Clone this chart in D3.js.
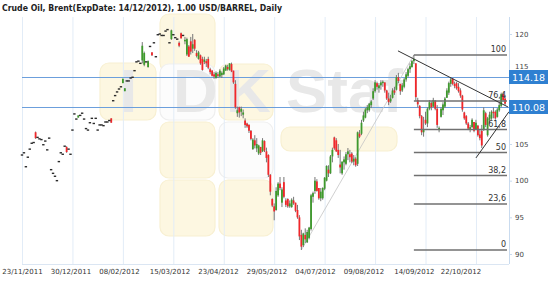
<!DOCTYPE html>
<html>
<head>
<meta charset="utf-8">
<script src="https://cdn.jsdelivr.net/npm/d3@7"></script>
<style>
  body { margin: 0; background: #fff; }
  svg { display: block; }
</style>
</head>
<body>
<div id="chart"></div>
<script>
// chart data
const titleText = 'Crude Oil, Brent(ExpDate: 14/12/2012), 1.00 USD/BARREL, Daily';
const gridIdx = [0, 26, 52, 78, 104, 130, 156, 182, 208, 234];
const labelIdx = [0, 25, 50, 76, 101, 126, 151, 176, 202, 226];
const dateLabels = ['23/11/2011', '30/12/2011', '08/02/2012', '15/03/2012', '23/04/2012',
                    '29/05/2012', '04/07/2012', '09/08/2012', '14/09/2012', '22/10/2012'];
const priceTicks = [90, 95, 100, 105, 110, 115, 120];
const levels = [114.18, 110.08];
const fibPcts = [100, 76.4, 61.8, 50, 38.2, 23.6, 0];
const fibLabels = ['100', '76,4', '61,8', '50', '38,2', '23,6', '0'];
const fibLow = [144, 90.55];    // [bar index, price]
const fibHigh = [202, 117.14];
// [idx1, price1, idx2, price2]
const trendLines = [[193.8, 117.7, 250.5, 110.05], [234, 103.1, 251, 109.4]];

// one entry per trading day: a number = flat day, otherwise [open, high, low, close]
const candles = [
  103.5, 103.8, 101.9, 103.2, 104.3, 105.1, 105.2, [106.6, 106.7, 105.7, 105.8], 105.9, 105.7,
  105.6, 104.9, 105.4, 104.2, 105.8, 101.5, 101.0, 100.6, 100.0, 102.6,
  103.8, 103.6, 104.7, [104.6, 104.7, 103.8, 103.9], 104.3, 103.6, 106.9, 109.1, 108.4, [108.6, 108.9, 108.6, 108.9],
  108.9, 109.2, 108.4, 107.1, 106.9, 107.9, 108.5, 107.8, 108.5, 106.9,
  107.6, 107.6, 107.5, 108.0, 108.0, 108.2, [108.5, 108.5, 107.9, 107.9], 110.9, 111.6, 112.1,
  112.5, 112.8, [113.3, 113.9, 113.3, 113.9], [112.2, 112.6, 112.2, 112.6], 113.6, 113.6, 114.0, 114.1, 115.0, 116.2,
  116.3, 116.0, [116.4, 118.9, 116.0, 118.4], [115.8, 117.6, 115.6, 117.4], 116.2, [115.5, 116.4, 115.4, 116.3], 118.3, [117.5, 117.5, 117.0, 117.1], 118.8, 116.9,
  119.9, 120.0, 119.8, 119.8, 120.4, 120.6, 118.8, [119.3, 120.6, 119.2, 120.5], 119.9, 119.5,
  119.3, [118.8, 119.0, 118.2, 118.4], [120.1, 120.2, 119.4, 119.4], 119.8, [119.0, 119.6, 118.6, 119.2], [117.2, 119.5, 117.0, 119.3], [118.3, 118.5, 116.9, 116.9], [119.0, 119.6, 117.2, 117.6], [118.0, 120.0, 117.4, 118.6], [119.2, 119.3, 117.7, 118.0],
  [117.4, 117.8, 116.8, 117.0], [116.6, 117.7, 116.5, 117.5], [117.1, 117.2, 115.8, 116.0], [116.6, 116.9, 115.0, 115.1], [116.2, 116.9, 115.9, 116.5], [116.3, 116.6, 115.5, 116.0], [116.6, 116.9, 115.2, 115.4], [115.2, 115.4, 114.5, 114.8], [115.0, 115.1, 114.2, 114.3], [114.5, 114.8, 113.9, 114.2],
  [114.0, 114.9, 113.9, 114.7], [114.5, 114.8, 114.0, 114.3], [114.2, 115.2, 114.1, 115.0], [114.4, 114.9, 114.0, 114.7], [114.5, 115.5, 114.4, 115.3], [115.0, 115.8, 115.0, 115.7], [115.5, 115.8, 115.0, 115.2], [115.1, 116.0, 115.0, 116.0], [115.9, 116.1, 114.8, 114.9], [115.0, 115.0, 113.2, 113.4],
  [113.2, 113.7, 109.8, 110.0], [109.2, 110.1, 108.7, 109.6], [110.0, 110.1, 108.6, 109.3], [109.4, 110.1, 108.8, 109.8], [109.0, 109.7, 108.5, 109.3], [108.2, 108.5, 107.2, 107.6], [107.8, 107.9, 107.2, 107.4], [107.6, 107.7, 106.5, 106.8], [106.8, 106.9, 105.5, 105.7], [104.3, 105.8, 104.2, 105.6],
  [105.5, 106.2, 104.4, 104.8], [104.4, 105.8, 103.9, 105.0], [103.7, 104.9, 103.5, 104.8], [104.6, 104.6, 103.5, 103.8], [104.0, 105.8, 103.9, 105.5], [105.4, 105.5, 103.9, 104.1], [104.0, 104.5, 102.5, 103.1], [103.5, 103.6, 100.5, 100.8], [100.8, 100.9, 98.0, 98.5], [97.5, 97.6, 96.4, 96.6],
  [96.5, 96.9, 94.6, 95.8], [96.0, 99.1, 95.9, 98.6], [98.0, 99.8, 97.8, 99.6], [99.6, 100.5, 98.7, 99.0], [97.0, 99.1, 96.4, 98.8], [99.8, 100.5, 97.6, 97.8], [97.3, 97.6, 96.4, 96.7], [97.5, 97.6, 96.3, 96.5], [96.5, 97.3, 96.3, 96.9], [96.4, 97.6, 96.3, 97.4],
  [97.3, 97.8, 96.7, 96.9], [97.0, 97.0, 95.7, 95.9], [96.0, 96.7, 94.8, 95.0], [95.0, 95.3, 91.9, 92.4], [92.6, 93.3, 90.55, 91.0], [91.2, 92.9, 90.95, 92.8], [92.6, 93.5, 91.5, 92.0], [91.6, 93.3, 91.5, 93.0], [92.2, 93.7, 92.0, 93.6], [93.4, 98.2, 93.2, 98.0],
  [97.8, 98.5, 97.0, 98.3], [98.6, 100.5, 98.2, 100.0], [99.9, 100.2, 98.5, 98.6], [99.0, 99.0, 97.4, 97.6], [97.6, 99.0, 97.2, 98.5], [97.6, 99.1, 97.4, 99.0], [98.9, 100.5, 98.7, 100.4], [100.0, 102.1, 99.9, 102.0], [101.5, 102.1, 100.5, 101.0], [101.0, 103.5, 100.9, 103.3],
  [103.3, 104.5, 102.5, 104.2], [105.9, 106.0, 104.2, 104.4], [105.5, 105.8, 103.9, 104.0], [104.2, 105.0, 103.1, 103.5], [102.2, 104.2, 101.0, 101.8], [101.0, 102.6, 100.8, 102.6], [102.5, 103.3, 101.5, 102.9], [102.3, 103.9, 102.1, 103.6], [103.6, 104.45, 102.8, 104.0], [103.6, 104.2, 102.5, 103.2],
  [103.7, 103.9, 102.4, 102.6], [102.6, 103.5, 102.1, 103.0], [103.0, 103.2, 101.9, 102.1], [102.3, 106.7, 102.0, 106.6], [106.4, 106.9, 105.8, 106.0], [106.4, 108.3, 106.2, 107.9], [108.2, 109.4, 108.0, 108.9], [108.6, 109.9, 108.5, 109.7], [109.6, 110.3, 109.2, 110.0], [109.6, 110.6, 109.4, 110.5],
  [110.3, 111.0, 109.9, 110.8], [111.2, 112.6, 111.0, 112.2], [112.2, 113.7, 112.0, 113.4], [113.3, 113.5, 112.4, 112.8], [112.6, 113.3, 112.0, 113.0], [113.0, 113.7, 112.4, 113.4], [113.3, 113.7, 112.8, 113.5], [113.4, 113.4, 112.0, 112.3], [112.3, 112.4, 111.0, 111.2], [111.2, 112.0, 110.3, 110.7],
  [110.8, 111.7, 110.6, 111.2], [111.3, 112.6, 111.2, 112.3], [112.3, 112.8, 111.7, 112.0], [112.4, 114.4, 112.3, 114.1], [114.1, 114.7, 113.3, 113.6], [113.2, 113.2, 111.7, 112.2], [112.3, 113.3, 112.1, 113.0], [112.8, 114.0, 112.6, 113.8], [113.8, 114.8, 113.5, 114.5], [114.3, 115.4, 114.1, 115.2],
  [115.2, 116.0, 114.7, 115.6], [115.5, 116.45, 115.4, 116.3], [116.3, 117.14, 115.9, 116.6], [116.0, 116.0, 110.9, 111.4], [111.0, 111.3, 110.0, 110.4], [110.2, 110.3, 108.5, 108.8], [108.8, 108.95, 106.2, 106.6], [106.6, 108.7, 106.0, 107.0], [108.3, 109.4, 107.6, 107.8], [107.8, 110.0, 107.3, 109.8],
  [109.8, 111.0, 109.6, 110.7], [110.6, 110.8, 109.6, 110.0], [110.1, 111.3, 110.0, 111.0], [110.9, 111.0, 109.6, 109.8], [109.8, 110.3, 107.2, 107.6], [106.9, 107.4, 106.6, 107.2], [108.7, 110.0, 108.6, 109.8], [109.6, 110.7, 108.95, 110.4], [110.1, 111.4, 109.9, 111.2], [111.3, 112.6, 111.3, 112.3],
  [112.0, 113.5, 111.7, 113.3], [113.2, 114.0, 112.8, 113.8], [113.9, 114.0, 113.0, 113.2], [113.2, 113.5, 112.6, 112.9], [113.3, 113.5, 112.4, 112.6], [112.8, 113.3, 112.0, 112.2], [112.3, 112.6, 111.3, 111.6], [111.6, 111.7, 109.4, 109.7], [109.3, 109.4, 108.3, 108.5], [108.8, 108.95, 107.6, 107.8],
  [107.8, 108.0, 106.9, 107.1], [107.0, 107.6, 106.6, 107.3], [107.3, 108.5, 107.2, 108.3], [108.0, 108.0, 106.6, 106.8], [107.0, 108.3, 106.9, 107.9], [107.5, 107.6, 106.0, 106.2], [106.3, 106.9, 105.5, 105.8], [106.8, 107.6, 104.45, 104.8], [106.9, 110.0, 106.8, 109.6], [109.2, 109.4, 107.3, 107.6],
  [106.2, 108.7, 106.0, 108.5], [108.3, 109.4, 107.9, 109.0], [108.5, 109.6, 108.3, 109.4], [109.4, 110.0, 108.5, 109.2], [109.4, 109.6, 108.3, 108.5], [108.7, 109.9, 108.6, 109.7], [109.6, 110.6, 109.4, 110.3], [110.2, 112.0, 110.0, 111.8], [111.8, 112.0, 110.8, 111.0], [111.2, 111.7, 110.3, 110.5]
];

const width = 550, height = 282;
const plot = { left: 22, right: 509, top: 17, bottom: 264 };

const bars = candles.map((c, i) => {
  const v = typeof c === 'number' ? [c, c, c, c] : c;
  return { i: i, open: v[0], high: v[1], low: v[2], close: v[3], flat: typeof c === 'number' };
});

const x = d3.scaleLinear().domain([0, 250]).range([22, 507]);
const y = d3.scaleLinear().domain([90, 120]).range([254, 34]);

const svg = d3.select('#chart').append('svg')
  .attr('width', width)
  .attr('height', height)
  .style('font-family', '"DejaVu Sans", Verdana, sans-serif');

// watermark logo in the background
const wm = svg.append('g');
const wmBoxes = [
  [160, 14, 55, 58, '#fdf7e1'], [100, 63, 56, 57, '#fdf7e1'], [160, 64, 55, 56, '#fcfcfc'],
  [219, 64, 54, 56, '#fdf7e1'], [160, 122, 55, 56, '#fdf7e1'], [219, 122, 54, 56, '#fcfcfc'],
  [160, 180, 55, 56, '#fdf7e1'], [219, 180, 54, 56, '#fdf7e1'], [281, 127, 116, 24, '#fdf7e1']
];
wm.selectAll('rect')
  .data(wmBoxes)
  .enter().append('rect')
  .attr('x', d => d[0]).attr('y', d => d[1])
  .attr('width', d => d[2]).attr('height', d => d[3])
  .attr('rx', 9)
  .attr('fill', d => d[4])
  .attr('stroke', d => d[4] === '#fcfcfc' ? '#efefef' : '#f8f0d2')
  .attr('stroke-width', 1.2);
const wmLetters = [['I', 120], ['D', 173], ['K', 226], ['Staf', 286]];
wm.selectAll('text')
  .data(wmLetters)
  .enter().append('text')
  .attr('x', d => d[1]).attr('y', 112)
  .attr('font-family', '"Liberation Sans", Arial, sans-serif')
  .attr('font-weight', 'bold')
  .attr('font-size', 62)
  .attr('fill', '#e8e8e8')
  .text(d => d[0]);

// vertical grid
svg.append('g')
  .attr('transform', `translate(0,${plot.bottom})`)
  .call(d3.axisBottom(x).tickValues(gridIdx).tickSize(-(plot.bottom - plot.top)).tickFormat(''))
  .call(g => g.select('.domain').remove())
  .call(g => g.selectAll('line').attr('stroke', '#e2ecf7'));

svg.append('line')
  .attr('x1', plot.left).attr('x2', plot.right)
  .attr('y1', plot.bottom + 0.5).attr('y2', plot.bottom + 0.5)
  .attr('stroke', '#dbe6f3');

// date labels
svg.append('g')
  .attr('transform', `translate(0,${plot.bottom + 2})`)
  .call(d3.axisBottom(x).tickValues(labelIdx).tickSize(0).tickFormat((d, i) => dateLabels[i]))
  .call(g => g.select('.domain').remove())
  .call(g => g.selectAll('text')
    .attr('font-family', '"DejaVu Sans", Verdana, sans-serif')
    .attr('font-size', 7).attr('fill', '#333'));

// horizontal support / resistance levels
svg.append('g')
  .selectAll('line')
  .data(levels)
  .enter().append('line')
  .attr('x1', plot.left).attr('x2', plot.right)
  .attr('y1', d => Math.round(y(d)) + 0.5).attr('y2', d => Math.round(y(d)) + 0.5)
  .attr('stroke', '#6c9fdc').attr('stroke-width', 1);

// fibonacci diagonal
svg.append('line')
  .attr('x1', x(fibLow[0])).attr('y1', y(fibLow[1]))
  .attr('x2', x(fibHigh[0])).attr('y2', y(fibHigh[1]))
  .attr('stroke', '#c4c4c4').attr('stroke-width', 0.8);

// candles
const cg = svg.append('g');
const real = bars.filter(d => !d.flat);
cg.selectAll('line.wick')
  .data(real)
  .enter().append('line')
  .attr('class', 'wick')
  .attr('x1', d => x(d.i)).attr('x2', d => x(d.i))
  .attr('y1', d => y(d.high)).attr('y2', d => y(d.low))
  .attr('stroke', '#777').attr('stroke-width', 1);
cg.selectAll('rect.body')
  .data(real)
  .enter().append('rect')
  .attr('class', 'body')
  .attr('x', d => x(d.i) - 0.9)
  .attr('width', 1.8)
  .attr('y', d => y(Math.max(d.open, d.close)))
  .attr('height', d => Math.max(1, Math.abs(y(d.open) - y(d.close))))
  .attr('fill', d => d.close > d.open ? '#3e9a2c' : d.close < d.open ? '#f2262a' : '#555');
cg.selectAll('rect.flat')
  .data(bars.filter(d => d.flat))
  .enter().append('rect')
  .attr('class', 'flat')
  .attr('x', d => x(d.i) - 1.2)
  .attr('y', d => y(d.close) - 0.7)
  .attr('width', 2.4).attr('height', 1.4)
  .attr('fill', '#2a2a2a');

// fibonacci retracement levels
const fibRange = fibHigh[1] - fibLow[1];
const fib = svg.append('g');
fib.selectAll('line')
  .data(fibPcts)
  .enter().append('line')
  .attr('x1', x(fibHigh[0])).attr('x2', x(candles.length))
  .attr('y1', d => y(fibLow[1] + fibRange * d / 100))
  .attr('y2', d => y(fibLow[1] + fibRange * d / 100))
  .attr('stroke', '#707070').attr('stroke-width', 1.5);
fib.selectAll('text')
  .data(fibPcts)
  .enter().append('text')
  .attr('x', x(candles.length) - 1)
  .attr('y', d => y(fibLow[1] + fibRange * d / 100) - 2.5)
  .attr('text-anchor', 'end')
  .attr('font-size', 8).attr('fill', '#333')
  .text((d, i) => fibLabels[i]);

// trend lines
svg.append('g')
  .selectAll('line')
  .data(trendLines)
  .enter().append('line')
  .attr('x1', d => x(d[0])).attr('y1', d => y(d[1]))
  .attr('x2', d => x(d[2])).attr('y2', d => y(d[3]))
  .attr('stroke', '#333').attr('stroke-width', 1);

// price axis on the right; the 110 and 115 labels sit under the level boxes
svg.append('g')
  .attr('transform', `translate(${plot.right},0)`)
  .call(d3.axisRight(y).tickValues(priceTicks).tickSize(3).tickPadding(3))
  .call(g => g.select('.domain').attr('d', `M0.5,${plot.top}V${plot.bottom}`).attr('stroke', '#c9dbef'))
  .call(g => g.selectAll('line').attr('stroke', '#c9dbef'))
  .call(g => g.selectAll('text')
    .attr('font-family', '"DejaVu Sans", Verdana, sans-serif')
    .attr('font-size', 7).attr('fill', '#444'))
  .call(g => g.selectAll('.tick')
    .filter(d => levels.some(l => Math.abs(y(l) - y(d)) < 7))
    .select('text').attr('dy', d => (y(d) < y(levels[0]) ? -0.3 : 0.32) + 'em'));

// level value boxes
const tags = svg.append('g')
  .selectAll('g')
  .data(levels)
  .enter().append('g')
  .attr('transform', d => `translate(${plot.right},${Math.round(y(d))})`);
tags.append('rect')
  .attr('x', 0).attr('y', -7)
  .attr('width', 39).attr('height', 14)
  .attr('fill', '#2f80d1');
tags.append('text')
  .attr('x', 19.5).attr('y', 3.5)
  .attr('text-anchor', 'middle')
  .attr('font-size', 9.5).attr('fill', '#fff')
  .text(d => d.toFixed(2));

// title
svg.append('text')
  .attr('x', 2).attr('y', 11)
  .attr('font-size', 8.5).attr('font-weight', 'bold').attr('fill', '#222')
  .attr('textLength', 280).attr('lengthAdjust', 'spacingAndGlyphs')
  .text(titleText);
</script>
</body>
</html>
